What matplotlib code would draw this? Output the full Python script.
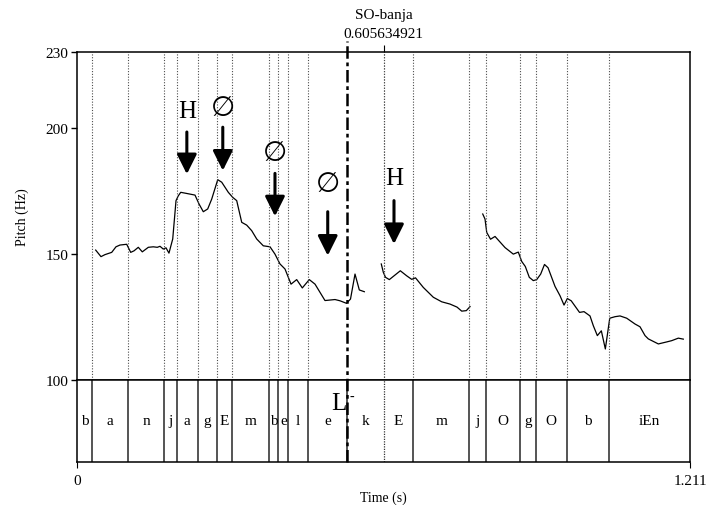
import matplotlib
matplotlib.use('Agg')
from matplotlib import pyplot as plt

plt.rcParams['font.family'] = ['Liberation Serif', 'DejaVu Serif']

# pitch contour (s, Hz), three voiced stretches
t1 = [0.0369, 0.0474, 0.0553, 0.0686, 0.0770, 0.0849, 0.0982, 0.1061, 0.1126,
      0.1211, 0.1290, 0.1409, 0.1507, 0.1586, 0.1640, 0.1705, 0.1758, 0.1817,
      0.1891, 0.1956, 0.2001, 0.2049, 0.2153, 0.2331, 0.2410, 0.2495, 0.2582,
      0.2661, 0.2780, 0.2859, 0.2989, 0.3076, 0.3155, 0.3254, 0.3352, 0.3451,
      0.3550, 0.3680, 0.3813, 0.3911, 0.4010, 0.4109, 0.4228, 0.4340, 0.4451,
      0.4589, 0.4702, 0.4899, 0.5097, 0.5196, 0.5324, 0.5403, 0.5492, 0.5577,
      0.5676]
f1 = [151.5, 148.9, 149.7, 150.6, 152.8, 153.5, 153.8, 150.6, 151.2,
      152.6, 150.8, 152.6, 152.8, 152.6, 153.0, 151.9, 152.4, 150.3,
      155.9, 171.1, 173.0, 174.4, 174.0, 173.3, 169.8, 166.7, 167.8,
      171.7, 179.4, 178.4, 174.4, 172.4, 171.1, 162.5, 161.4, 159.2,
      155.9, 153.2, 152.8, 149.9, 146.0, 144.0, 138.0, 139.8, 136.5,
      139.8, 138.0, 131.5, 131.9, 131.4, 130.4, 132.1, 142.0, 135.7,
      135.0]
t2 = [0.6011, 0.6051, 0.6095, 0.6170, 0.6387, 0.6513, 0.6612, 0.6687, 0.6841,
      0.7039, 0.7205, 0.7369, 0.7507, 0.7600, 0.7691, 0.7764]
f2 = [146.0, 142.7, 140.7, 139.8, 143.3, 141.3, 139.9, 140.5, 136.7,
      132.8, 131.0, 130.1, 128.9, 127.3, 127.5, 129.1]
t3 = [0.8015, 0.8060, 0.8094, 0.8169, 0.8258, 0.8455, 0.8619, 0.8718, 0.8785,
      0.8856, 0.8935, 0.9014, 0.9081, 0.9160, 0.9235, 0.9305, 0.9443, 0.9542,
      0.9621, 0.9686, 0.9763, 0.9927, 1.0016, 1.0134, 1.0200, 1.0279, 1.0358,
      1.0437, 1.0524, 1.0628, 1.0727, 1.0859, 1.1023, 1.1122, 1.1221, 1.1286,
      1.1484, 1.1650, 1.1748, 1.1879, 1.1977]
f3 = [165.8, 163.8, 158.5, 155.8, 156.9, 152.5, 149.9, 150.7, 147.0,
      145.0, 140.7, 139.4, 139.8, 142.0, 145.8, 144.5, 137.1, 133.4,
      129.7, 132.3, 131.4, 126.8, 127.1, 125.4, 121.5, 117.6, 119.5,
      112.3, 124.5, 125.1, 125.4, 124.5, 122.2, 121.1, 117.6, 116.3,
      114.3, 115.1, 115.6, 116.6, 116.2]

# segment tier
fronteras = [0.0296, 0.1013, 0.1719, 0.1970, 0.2390, 0.2770, 0.3060, 0.3800,
             0.3980, 0.4170, 0.4560, 0.5338, 0.605634921, 0.6640, 0.7750,
             0.8080, 0.8760, 0.9070, 0.9670, 1.0500]
segmentos = ['b', 'a', 'n', 'j', 'a', 'g', 'E', 'm', 'b', 'e', 'l', 'e', 'k',
             'E', 'm', 'j', 'O', 'g', 'O', 'b', 'iEn']
duracion = 1.211
t_marca = 0.605634921
t_L = 0.5338

# tone labels: (text, x, text y, arrow top, arrow tip)
tonos = [('H', 0.2170, 206.8, 198.3, 181.6),
         ('\u2205', 0.2880, 208.1, 200.2, 183.0),
         ('\u2205', 0.3911, 190.2, 181.9, 164.9),
         ('\u2205', 0.4953, 178.1, 166.7, 149.3),
         ('H', 0.6262, 179.9, 171.1, 153.9)]

fig = plt.figure(figsize=(7.07, 5.06), dpi=100)
ax = fig.add_axes([0.1089, 0.2470, 0.8671, 0.6482])
ax2 = fig.add_axes([0.1089, 0.0850, 0.8671, 0.1621])

for t, f in [(t1, f1), (t2, f2), (t3, f3)]:
    ax.plot(t, f, color='black', lw=0.9)

for b in fronteras:
    if b == t_L:
        continue
    ax.axvline(b, color='0.3', lw=0.8, linestyle=(0, (1, 1.5)))
ax.axvline(t_marca + 0.001, color='0.3', lw=0.8, linestyle=(0, (1, 1.5)))

ax.set_xlim(0, duracion)
ax.set_ylim(100, 230)
ax.set_yticks([100, 150, 200, 230])
ax.tick_params(axis='y', direction='out', length=4.5, width=1, labelsize=11, pad=1.5)
ax.set_xticks([t_marca])
ax.set_xticklabels(['SO-banja\n0.605634921'], linespacing=1.6)
ax.tick_params(axis='x', bottom=False, labelbottom=False, top=True, labeltop=True,
               direction='out', length=5, labelsize=11, pad=4)
ax.set_ylabel('Pitch (Hz)', fontsize=10, labelpad=12)

for txt, x, yt, y0, y1 in tonos:
    if txt == 'H':
        ax.text(x, yt, txt, ha='center', va='center', fontsize=18)
    else:
        ax.text(x, yt, txt, ha='center', va='center', fontsize=20,
                family=['DejaVu Sans'])
    ax.annotate('', xy=(x, y1), xytext=(x, y0),
                arrowprops=dict(arrowstyle='-|>,head_length=0.6,head_width=0.3',
                                color='black', lw=2.2, shrinkA=0, shrinkB=0,
                                mutation_scale=20))

# tier
for b in fronteras:
    if b == t_marca:
        ax2.axvline(b, color='0.2', lw=0.9, linestyle=(0, (1, 1)))
    else:
        ax2.axvline(b, color='0.15', lw=1.1)
bordes = [0] + fronteras + [duracion]
for i, s in enumerate(segmentos):
    ax2.text((bordes[i] + bordes[i + 1]) / 2, 0.5, s, ha='center', va='center',
             fontsize=11)
ax2.text(t_L - 0.002, 0.72, 'L', ha='right', va='center', fontsize=18)
ax2.text(t_L + 0.004, 0.80, '-', ha='left', va='center', fontsize=10)
ax2.set_xlim(0, duracion)
ax2.set_ylim(0, 1)
ax2.set_yticks([])
ax2.set_xticks([0, duracion])
ax2.set_xticklabels(['0', '1.211'])
ax2.tick_params(axis='x', direction='out', length=4, labelsize=11, pad=5)
ax2.set_xlabel('Time (s)', fontsize=10, labelpad=2)

for a in (ax, ax2):
    for s in a.spines.values():
        s.set_linewidth(1.1)

# dashed line across both panels, starting above the plot
fig.add_artist(plt.Line2D([0.1089 + 0.8671 * t_L / duracion] * 2,
                          [0.085, 0.917], color='black', lw=1.8,
                          linestyle=(0, (5, 1.5, 1.5, 1.5))))

fig.savefig('out.png', dpi=100)
